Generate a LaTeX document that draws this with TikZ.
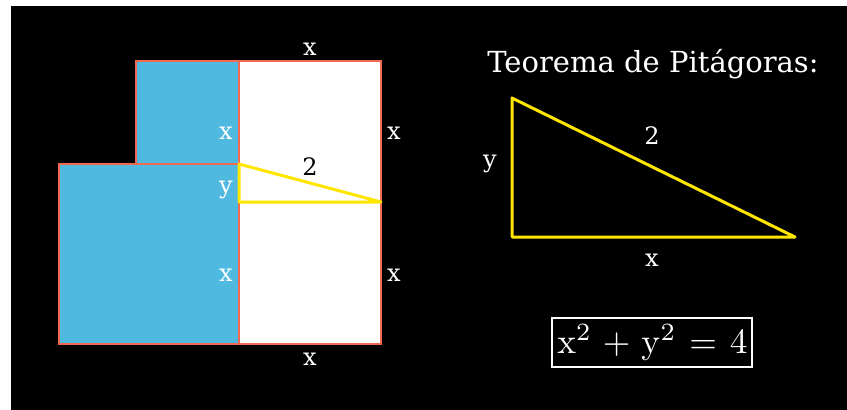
\documentclass[tikz,border=0pt]{standalone}
\usepackage[no-math]{fontspec}
\setmainfont{DejaVu Serif}
\usepackage{graphicx}
\definecolor{skyb}{RGB}{80,185,223}
\definecolor{coral}{RGB}{240,105,80}
\definecolor{yel}{RGB}{255,230,0}
\begin{document}
\begin{tikzpicture}[x=1pt,y=-1pt,
  box/.style={draw=coral,line width=2.5pt},
  tri/.style={draw=yel,line width=3pt,line join=round},
  lbl/.style={text=white,font=\fontsize{24}{28}\selectfont,anchor=base,inner sep=0pt},
  lblk/.style={lbl,text=black}]
\useasboundingbox (0,0) rectangle (847,410);
\fill[white] (0,0) rectangle (847,410);
\fill[black] (11,6) rectangle (847,410);
% squares
\filldraw[box,fill=skyb] (136,61) rectangle (239,164);
\filldraw[box,fill=skyb] (59,164) rectangle (239,344);
\filldraw[box,fill=white] (239,61) rectangle (381,344);
% small triangle
\coordinate (a) at (239,164);
\coordinate (b) at (239,202);
\coordinate (c) at (381,202);
\draw[tri] (a) -- (b) -- (c) -- cycle;
% labels left figure
\node[lbl] (xt) at (310,55) {x};
\node[lbl] (xl1) at (226,139) {x};
\node[lbl] (xr1) at (394,139) {x};
\node[lblk] (two1) at (310,175) {2};
\node[lbl] (yl) at (226,193) {y};
\node[lbl] (xl2) at (226,281) {x};
\node[lbl] (xr2) at (394,281) {x};
\node[lbl] (xb) at (310,365) {x};
% right part
\node[lbl,font=\fontsize{29}{34}\selectfont] (title) at (653,72) {Teorema de Pitágoras:};
\coordinate (p) at (512,98);
\coordinate (q) at (512,237);
\coordinate (r) at (795,237);
\draw[tri] (p) -- (q) -- (r) -- cycle;
\node[lbl] (two2) at (652,144) {2};
\node[lbl] (y2) at (490,167) {y};
\node[lbl] (x2) at (652,266) {x};
\node[draw=white,line width=2pt,minimum width=200pt,minimum height=49pt,inner sep=0pt] (eq) at (652,342.5) {};
\node[text=white,anchor=base,inner sep=0pt] (eqt) at (652.5,353)
  {\scalebox{3.55}{\medmuskip=5.5mu\thickmuskip=6.5mu$\mathrm{x}^{2}+\mathrm{y}^{2}=4$}};
\end{tikzpicture}
\end{document}
